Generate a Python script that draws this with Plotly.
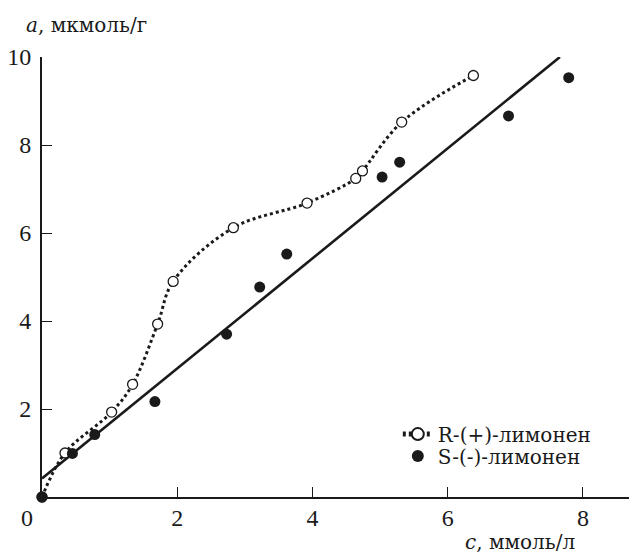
import plotly.graph_objects as go

# R-(+)-limonene (open circles, dotted spline)
r_x = [0.0, 0.34, 1.03, 1.34, 1.71, 1.94, 2.83, 3.92, 4.64, 4.74, 5.32, 6.38]
r_y = [0.0, 1.00, 1.93, 2.56, 3.93, 4.90, 6.12, 6.68, 7.24, 7.41, 8.52, 9.58]

# S-(-)-limonene (filled circles)
s_x = [0.0, 0.45, 0.78, 1.67, 2.73, 3.22, 3.62, 5.03, 5.29, 6.90, 7.79]
s_y = [0.0, 0.99, 1.42, 2.17, 3.70, 4.77, 5.52, 7.27, 7.61, 8.66, 9.53]

# straight fit line
fit_x = [0.0, 7.66]
fit_y = [0.42, 10.0]

x_ticks = [2, 4, 6, 8]
y_ticks = [2, 4, 6, 8, 10]
origin_label = "0"

NUM_FONT = "Liberation Serif, Times New Roman, Times, serif"
TXT_FONT = "DejaVu Serif, serif"
INK = "#1a1a1a"

fig = go.Figure()
fig.add_trace(go.Scatter(x=fit_x, y=fit_y, mode="lines",
                         line=dict(color=INK, width=2.6),
                         showlegend=False, hoverinfo="skip", cliponaxis=False))
fig.add_trace(go.Scatter(x=r_x, y=r_y, mode="lines+markers", name="R-(+)-лимонен",
                         line=dict(color=INK, width=3, dash="3px,3px", shape="spline", smoothing=1.0),
                         marker=dict(symbol="circle", size=10, color="white",
                                     line=dict(color=INK, width=1.3)),
                         cliponaxis=False, legend="legend"))
fig.add_trace(go.Scatter(x=s_x, y=s_y, mode="markers", name="S-(-)-лимонен",
                         marker=dict(symbol="circle", size=11, color=INK,
                                     line=dict(width=0)),
                         cliponaxis=False, legend="legend2"))

leg_common = dict(xanchor="left", yanchor="middle", bgcolor="rgba(0,0,0,0)",
                  font=dict(size=20, family=TXT_FONT, color=INK),
                  itemsizing="constant", borderwidth=0)

fig.update_layout(
    width=629, height=547,
    margin=dict(l=34, r=0, t=49, b=58, autoexpand=False),
    paper_bgcolor="white", plot_bgcolor="white",
    font=dict(family=NUM_FONT, color=INK, size=22),
    xaxis=dict(range=[0, 8.80], tickvals=x_ticks, ticktext=[str(v) for v in x_ticks],
               ticks="inside", ticklen=10, tickwidth=1.2, tickcolor=INK,
               showline=True, linecolor=INK, linewidth=2, automargin=False,
               showgrid=False, zeroline=False, tickfont=dict(size=24, family=NUM_FONT, color=INK),
               ticklabelstandoff=-2),
    yaxis=dict(range=[0, 10], tickvals=y_ticks, ticktext=[str(v) for v in y_ticks],
               ticks="inside", ticklen=10, tickwidth=1.2, tickcolor=INK,
               showline=True, linecolor=INK, linewidth=2, automargin=False,
               showgrid=False, zeroline=False, tickfont=dict(size=24, family=NUM_FONT, color=INK),
               ticklabelstandoff=4),
    legend=dict(x=0.598, y=0.143, **leg_common),
    legend2=dict(x=0.598, y=0.093, **leg_common),
    showlegend=True,
)

fig.add_annotation(text=origin_label, xref="paper", yref="paper", x=-0.0252, y=-0.0477,
                   xanchor="center", yanchor="middle", showarrow=False,
                   font=dict(size=24, family=NUM_FONT, color=INK))
fig.add_annotation(text="<i>a</i>, мкмоль/г", xref="paper", yref="paper", x=0.0748, y=1.0727,
                   xanchor="center", yanchor="middle", showarrow=False,
                   font=dict(size=20, family=TXT_FONT, color=INK))
fig.add_annotation(text="<i>c</i>, ммоль/л", xref="paper", yref="paper", x=0.804, y=-0.103,
                   xanchor="center", yanchor="middle", showarrow=False,
                   font=dict(size=20, family=TXT_FONT, color=INK))

fig.write_html("out.html")
